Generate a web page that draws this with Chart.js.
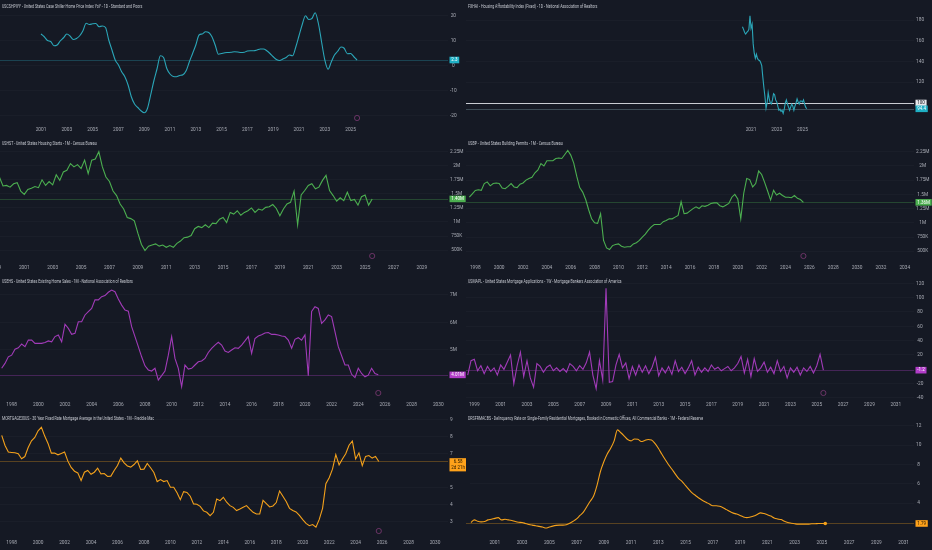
<!DOCTYPE html>
<html>
<head>
<meta charset="utf-8">
<script src="https://cdn.jsdelivr.net/npm/chart.js@4.4.1/dist/chart.umd.min.js"></script>
<style>
  body { margin: 0; background: #151924; width: 932px; height: 550px; overflow: hidden; }
  .pane { position: absolute; }
  canvas { display: block; }
</style>
</head>
<body>
<div class="pane" style="left:0;top:0"><canvas id="p1" width="466" height="137"></canvas></div>
<div class="pane" style="left:466px;top:0"><canvas id="p2" width="466" height="137"></canvas></div>
<div class="pane" style="left:0;top:137px"><canvas id="p3" width="466" height="138"></canvas></div>
<div class="pane" style="left:466px;top:137px"><canvas id="p4" width="466" height="138"></canvas></div>
<div class="pane" style="left:0;top:275px"><canvas id="p5" width="466" height="137"></canvas></div>
<div class="pane" style="left:466px;top:275px"><canvas id="p6" width="466" height="137"></canvas></div>
<div class="pane" style="left:0;top:412px"><canvas id="p7" width="466" height="138"></canvas></div>
<div class="pane" style="left:466px;top:412px"><canvas id="p8" width="466" height="138"></canvas></div>
<script>
// --- data (decimal years) ---

// Case Shiller YoY %, quarterly from 2001.0
const cshStart = 2001.0;
const cshYoY = [
  12.7, 11.6, 10.1, 9.7, 8.0, 8.3, 10.0, 11.2, 12.7, 11.9, 10.5, 10.9,
  12.0, 14.0, 17.0, 16.5, 16.8, 16.9, 15.6, 15.9, 15.3, 10.3, 6.3, 2.3,
  0.3, -2.4, -4.4, -7.7, -12.4, -15.3, -16.7, -18.0, -18.8, -17.1, -11.7, -6.0,
  -1.1, 4.0, 3.3, -1.1, -3.3, -4.3, -4.4, -3.9, -3.6, -2.0, 1.6, 4.9,
  8.3, 12.3, 12.7, 13.6, 13.3, 11.6, 8.3, 4.6, 4.9, 5.2, 5.3, 5.4,
  5.6, 5.5, 5.3, 5.4, 5.9, 6.0, 6.0, 6.3, 6.7, 6.7, 6.0, 4.9,
  3.6, 2.5, 2.1, 2.7, 3.3, 4.3, 4.0, 7.5, 12.0, 16.5, 20.0, 18.5,
  18.9, 21.2, 17.0, 9.5, 2.3, -1.4, 1.5, 4.3, 5.8, 7.5, 7.0, 4.8,
  4.9, 3.6, 2.3
];
const cshXTicks = [2001, 2003, 2005, 2007, 2009, 2011, 2013, 2015, 2017, 2019, 2021, 2023, 2025];
const cshYTicks = [-20, -10, 0, 10, 20];

// Housing affordability index, monthly from May 2020
const fhaiStart = 2020.333;
const fhai = [
  173.5, 171, 168, 166.5, 168, 169, 171, 184, 172, 176, 157, 148,
  143, 147, 143, 141.5, 141, 139, 136, 125, 115, 106, 95, 100,
  110, 104, 100, 99, 103, 109, 108, 103, 101, 97, 93, 94,
  92, 93, 90, 94, 100, 103, 99, 96, 93, 96, 99, 97,
  93, 97, 100, 104, 101, 99, 102, 102, 101, 103, 99, 96,
  94.4
];
const fhaiRef = 100;
const fhaiXTicks = [2021, 2023, 2025];
const fhaiYTicks = [120, 140, 160, 180];

// Housing starts (millions), quarterly from 1999.25
const startsStart = 1999.25;
const starts = [
  1.80, 1.64, 1.65, 1.62, 1.68, 1.70, 1.55, 1.49, 1.58, 1.60,
  1.63, 1.61, 1.75, 1.65, 1.72, 1.66, 1.84, 1.74, 1.89, 1.92,
  2.04, 1.98, 2.02, 1.95, 2.10, 1.86, 2.10, 2.12, 2.25, 1.98,
  1.80, 1.72, 1.55, 1.47, 1.32, 1.23, 1.08, 1.06, 1.02, 0.80,
  0.60, 0.49, 0.57, 0.59, 0.61, 0.57, 0.59, 0.55, 0.58, 0.55,
  0.62, 0.66, 0.72, 0.73, 0.76, 0.88, 0.92, 0.90, 0.95, 0.90,
  0.98, 0.97, 1.05, 1.08, 0.99, 1.17, 1.14, 1.20, 1.12, 1.17,
  1.20, 1.25, 1.17, 1.23, 1.21, 1.26, 1.27, 1.31, 1.24, 1.11,
  1.23, 1.32, 1.35, 1.55, 0.95, 1.48, 1.56, 1.65, 1.68, 1.59,
  1.62, 1.74, 1.83, 1.56, 1.47, 1.37, 1.43, 1.38, 1.53, 1.38,
  1.40, 1.30, 1.45, 1.48, 1.30, 1.41
];
const startsXTicks = [1999, 2001, 2003, 2005, 2007, 2009, 2011, 2013, 2015, 2017, 2019, 2021, 2023, 2025, 2027, 2029];
const unitsYTicks = [0.5, 0.75, 1, 1.25, 1.5, 1.75, 2, 2.25];

// Building permits (millions), quarterly from 1997.5
const permitsStart = 1997.5;
const permits = [
  1.45, 1.51, 1.57, 1.58, 1.57, 1.69, 1.72, 1.65, 1.69, 1.70,
  1.69, 1.61, 1.60, 1.64, 1.69, 1.63, 1.62, 1.68, 1.70, 1.75,
  1.78, 1.80, 1.88, 1.93, 2.04, 2.00, 2.09, 2.09, 2.09, 2.13,
  2.14, 2.13, 2.20, 2.27, 2.19, 2.05, 1.82, 1.62, 1.54, 1.41,
  1.23, 1.07, 1.00, 0.99, 1.16, 0.69, 0.56, 0.53, 0.60, 0.62,
  0.63, 0.59, 0.57, 0.58, 0.58, 0.63, 0.65, 0.69, 0.75, 0.80,
  0.87, 0.93, 0.97, 0.97, 0.97, 1.02, 1.04, 1.07, 1.07, 1.10,
  1.13, 1.37, 1.16, 1.17, 1.21, 1.25, 1.28, 1.25, 1.30, 1.29,
  1.31, 1.34, 1.35, 1.35, 1.30, 1.28, 1.31, 1.34, 1.45, 1.50,
  1.42, 1.07, 1.52, 1.78, 1.76, 1.63, 1.69, 1.91, 1.85, 1.71,
  1.56, 1.40, 1.57, 1.49, 1.52, 1.48, 1.45, 1.45, 1.44, 1.48,
  1.43, 1.41, 1.36
];
const permitsXTicks = [1998, 2000, 2002, 2004, 2006, 2008, 2010, 2012, 2014, 2016, 2018, 2020, 2022, 2024, 2026, 2028, 2030, 2032, 2034];

// Existing home sales (millions), quarterly from 1997.25
const salesStart = 1997.25;
const sales = [
  4.32, 4.50, 4.74, 4.80, 5.02, 5.07, 5.21, 5.11, 5.35, 5.35,
  5.23, 5.23, 5.23, 5.26, 5.32, 5.29, 5.48, 5.54, 5.29, 5.93,
  5.78, 5.56, 5.60, 6.02, 6.02, 6.27, 6.39, 6.51, 6.82, 6.82,
  6.94, 6.98, 7.10, 7.18, 7.12, 6.85, 6.63, 6.45, 6.41, 5.84,
  5.48, 5.11, 4.74, 4.41, 4.26, 4.22, 4.32, 3.89, 4.05, 4.22,
  4.80, 5.48, 4.68, 4.32, 3.65, 4.44, 4.29, 4.32, 4.44, 4.56,
  4.59, 4.68, 4.90, 5.05, 5.17, 5.27, 5.17, 4.95, 4.90, 4.99,
  5.07, 5.05, 5.17, 5.32, 5.48, 4.87, 5.41, 5.50, 5.55, 5.61,
  5.63, 5.56, 5.56, 5.54, 5.50, 5.48, 5.35, 5.05, 5.38, 5.44,
  5.35, 5.54, 4.05, 6.40, 6.57, 6.51, 5.96, 6.09, 6.27, 6.21,
  5.66, 5.11, 4.78, 4.44, 4.44, 4.10, 3.98, 4.32, 4.13, 4.01,
  4.07, 4.32, 4.13, 4.08
];
const salesXTicks = [1998, 2000, 2002, 2004, 2006, 2008, 2010, 2012, 2014, 2016, 2018, 2020, 2022, 2024, 2026, 2028, 2030];
const salesYTicks = [5, 6, 7];

// Mortgage applications % change, quarterly from 1998.5
const appsStart = 1998.5;
const apps = [
  -8, 12, 14, -2, 5, -6, 4, -3, 2, -8,
  6, 0, 10, 20, -20, 5, 24, -10, 12, -12,
  -25, 8, 4, -4, 3, 6, -2, 2, -3, 1,
  -4, 8, 4, -2, 5, 0, 9, 24, -8, -27,
  12, -15, 113, -18, -17, 6, 21, 2, 9, -13,
  4, -8, 6, -4, 5, -6, 3, 17, -9, 2,
  -5, 4, -7, 12, -3, 3, -6, 2, 12, -8,
  3, -4, 2, -3, 6, 0, 3, -2, 1, 4,
  -2, 2, 8, 18, -5, 14, -10, 15, -3, 2,
  10, -4, 3, -6, 12, -3, 4, -12, 2, -4,
  3, -8, 2, -3, 4, -5, 5, 21, -1.2
];
const appsXTicks = [1999, 2001, 2003, 2005, 2007, 2009, 2011, 2013, 2015, 2017, 2019, 2021, 2023, 2025, 2027, 2029, 2031];
const appsYTicks = [-40, -20, 20, 40, 60, 80, 100, 120];

// 30Y fixed mortgage rate %, quarterly from 1997.25
const rateStart = 1997.25;
const rate30 = [
  8.08, 7.49, 7.10, 7.08, 7.06, 7.00, 6.71, 6.84, 7.37, 7.76,
  7.96, 8.35, 8.55, 8.04, 7.61, 7.04, 7.04, 6.94, 7.02, 7.10,
  6.57, 6.20, 5.98, 5.88, 5.43, 5.92, 6.02, 5.80, 5.92, 6.16,
  5.82, 5.84, 5.67, 5.69, 6.02, 6.31, 6.75, 6.47, 6.29, 6.22,
  6.37, 6.59, 6.08, 6.10, 6.43, 6.18, 5.90, 5.37, 5.49, 5.37,
  5.43, 5.04, 5.04, 4.71, 4.31, 4.78, 4.73, 4.51, 4.06, 4.04,
  3.92, 3.65, 3.57, 3.37, 3.57, 4.35, 4.25, 4.45, 4.16, 3.96,
  3.86, 3.67, 3.76, 3.86, 3.96, 3.76, 3.57, 3.47, 3.47, 4.27,
  4.08, 3.88, 3.94, 4.14, 4.82, 4.51, 4.20, 3.80, 3.67, 3.59,
  3.39, 3.14, 2.92, 2.78, 2.85, 2.70, 3.15, 3.80, 5.25, 5.60,
  6.10, 6.95, 6.35, 6.70, 7.00, 7.50, 7.75, 6.70, 7.05, 6.30,
  6.85, 6.90, 6.75, 6.85, 6.55
];
const rateXTicks = [1998, 2000, 2002, 2004, 2006, 2008, 2010, 2012, 2014, 2016, 2018, 2020, 2022, 2024, 2026, 2028, 2030];
const rateYTicks = [3, 4, 5, 7, 8, 9];

// Delinquency rate %, quarterly from 1999.25
const delqStart = 1999.25;
const delq = [
  2.00, 2.27, 2.13, 2.07, 2.10, 2.27, 2.33, 2.43, 2.50, 2.27,
  2.33, 2.27, 2.20, 2.10, 2.03, 2.00, 1.90, 1.80, 1.73, 1.67,
  1.60, 1.53, 1.43, 1.53, 1.63, 1.70, 1.73, 1.73, 1.77, 1.93,
  2.13, 2.37, 2.73, 3.07, 3.63, 4.20, 4.73, 5.83, 7.27, 8.27,
  9.07, 9.67, 10.40, 11.57, 11.27, 10.93, 10.57, 10.43, 10.63, 10.60,
  10.37, 10.47, 10.57, 10.53, 10.17, 9.67, 9.07, 8.50, 7.97, 7.50,
  7.00, 6.53, 6.23, 5.80, 5.40, 5.03, 4.77, 4.50, 4.27, 4.10,
  3.90, 3.73, 3.73, 3.67, 3.53, 3.33, 3.13, 2.97, 2.87, 2.73,
  2.57, 2.50, 2.57, 2.67, 2.83, 3.00, 2.93, 2.80, 2.67, 2.47,
  2.37, 2.30, 2.13, 2.00, 1.93, 1.87, 1.83, 1.83, 1.83, 1.83,
  1.87, 1.87, 1.90, 1.90, 1.90
];
const delqXTicks = [2001, 2003, 2005, 2007, 2009, 2011, 2013, 2015, 2017, 2019, 2021, 2023, 2025, 2027, 2029, 2031];
const delqYTicks = [4, 6, 8, 10, 12];

// --- drawing ---
const FONT = 'Roboto, "Noto Sans", sans-serif';
const TICK_COLOR = '#a7aab3';
const TICK_SIZE = 4.8;
const fmtUnits = v => v >= 1 ? (+v.toFixed(2)) + 'M' : Math.round(v * 1000) + 'K';
const fmtPlain = v => String(v);

function series(start, step, values) {
  return values.map((v, i) => ({ x: start + i * step, y: v }));
}

function badge(ctx, x, y, lines, bg, fg) {
  ctx.font = '4.5px ' + FONT;
  const w = Math.max(...lines.map(t => ctx.measureText(t).width)) + 3.5;
  const h = 6.6 * lines.length;
  const top = y - 3.3;
  ctx.fillStyle = bg;
  ctx.fillRect(x, top, w, h);
  ctx.fillStyle = fg;
  ctx.textAlign = 'center';
  ctx.textBaseline = 'middle';
  lines.forEach((t, i) => ctx.fillText(t, x + w / 2, top + 3.4 + i * 6.4));
}

const decor = {
  id: 'decor',
  beforeDatasetsDraw(chart, args, o) {
    const { ctx, chartArea: a, scales: { y } } = chart;
    const pts = chart.data.datasets[0].data;
    ctx.save();
    ctx.lineWidth = 1;
    if (o.refLine != null) {
      const ry = Math.round(y.getPixelForValue(o.refLine)) + 0.5;
      ctx.strokeStyle = '#c9ccd3';
      ctx.beginPath(); ctx.moveTo(0, ry); ctx.lineTo(a.right, ry); ctx.stroke();
    }
    const py = Math.round(y.getPixelForValue(pts[pts.length - 1].y)) + 0.5;
    ctx.strokeStyle = o.priceLine;
    ctx.beginPath(); ctx.moveTo(0, py); ctx.lineTo(a.right, py); ctx.stroke();
    ctx.restore();
  },
  afterDraw(chart, args, o) {
    const { ctx, chartArea: a, scales: { x, y } } = chart;
    const pts = chart.data.datasets[0].data;
    const last = pts[pts.length - 1];
    ctx.save();
    // pane title
    ctx.font = '4.6px ' + FONT;
    ctx.fillStyle = '#c4c7cf';
    ctx.textAlign = 'left';
    ctx.textBaseline = 'middle';
    ctx.save();
    ctx.scale(0.78, 1);
    ctx.fillText(o.title, 2 / 0.78, 7);
    ctx.restore();
    // event marker under the last bar
    if (o.marker) {
      const mx = x.getPixelForValue(last.x);
      ctx.strokeStyle = '#8c3f7f';
      ctx.lineWidth = 0.7;
      ctx.beginPath(); ctx.arc(mx, a.bottom - 7, 2.6, 0, Math.PI * 2); ctx.stroke();
    }
    // last value badges
    if (o.refLine != null) {
      badge(ctx, a.right + 1.5, y.getPixelForValue(o.refLine), [String(o.refLine)], '#e6e7ea', '#131722');
    }
    badge(ctx, a.right + 1.5, y.getPixelForValue(last.y), o.badge, o.badgeBg, o.badgeFg);
    ctx.restore();
  }
};

function pane(id, p) {
  const canvas = document.getElementById(id);
  const H = canvas.height;
  const B = H - 12;
  const pts = series(p.start, p.step, p.values);
  new Chart(canvas, {
    type: 'line',
    data: {
      datasets: [{
        data: pts,
        borderColor: p.color,
        borderWidth: 1.1,
        tension: p.smooth ? 0.4 : 0,
        cubicInterpolationMode: p.smooth ? 'monotone' : 'default',
        pointRadius: ctx => (p.endDot && ctx.dataIndex === pts.length - 1) ? 1.8 : 0,
        pointBackgroundColor: p.color,
        pointBorderWidth: 0,
        fill: false
      }]
    },
    options: {
      responsive: false,
      animation: false,
      events: [],
      layout: { padding: 0 },
      plugins: {
        legend: { display: false },
        tooltip: { enabled: false },
        decor: {
          title: p.title, badge: p.badge, badgeBg: p.badgeBg, badgeFg: p.badgeFg,
          priceLine: p.priceLine, marker: p.marker, refLine: p.refLine
        }
      },
      scales: {
        x: {
          type: 'linear', min: p.x[0], max: p.x[1],
          grid: { display: false, drawTicks: false }, border: { display: false },
          afterBuildTicks: s => { s.ticks = p.xTicks.map(v => ({ value: v })); },
          afterFit: s => { s.height = H - B; s.paddingLeft = 0; s.paddingRight = 0; },
          ticks: {
            color: TICK_COLOR, font: { family: FONT, size: TICK_SIZE }, padding: 2,
            maxRotation: 0, autoSkip: false, callback: v => String(v)
          }
        },
        y: {
          position: 'right', min: p.y[0], max: p.y[1],
          grid: { color: 'rgba(255,255,255,0.025)', drawTicks: false }, border: { display: false },
          afterBuildTicks: s => { s.ticks = p.yTicks.map(v => ({ value: v })); },
          afterFit: s => { s.width = 18; s.paddingTop = 0; s.paddingBottom = 0; },
          ticks: {
            color: TICK_COLOR, font: { family: FONT, size: TICK_SIZE }, padding: 2,
            crossAlign: 'center', callback: p.fmt
          }
        }
      }
    },
    plugins: [decor]
  });
}

const CYAN = '#2ba6b8', GREEN = '#4caf50', PURPLE = '#a13bb8', ORANGE = '#f4a11b';

pane('p1', {
  title: 'USCSHPIYY - United States Case Shiller Home Price Index YoY - 1D - Standard and Poors',
  start: cshStart, step: 0.25, values: cshYoY, color: CYAN, smooth: true,
  x: [1997.82, 2032.55], y: [-23.7, 26.3], xTicks: cshXTicks, yTicks: cshYTicks, fmt: fmtPlain,
  badge: ['2.3'], badgeBg: '#1fb0c5', badgeFg: '#ffffff', priceLine: 'rgba(43,166,184,0.3)', marker: true
});
pane('p2', {
  title: 'FXHAI - Housing Affordability Index (Fixed) - 1D - National Association of Realtors',
  start: fhaiStart, step: 1 / 12, values: fhai, color: CYAN,
  x: [1998.82, 2033.68], y: [78.8, 199.3], xTicks: fhaiXTicks, yTicks: fhaiYTicks, fmt: fmtPlain,
  badge: ['94.4'], badgeBg: '#1fb0c5', badgeFg: '#ffffff', priceLine: 'rgba(120,150,160,0.4)', refLine: fhaiRef
});
pane('p3', {
  title: 'USHST - United States Housing Starts - 1M - Census Bureau',
  start: startsStart, step: 0.25, values: starts, color: GREEN,
  x: [1999.29, 2030.84], y: [0.27, 2.512], xTicks: startsXTicks, yTicks: unitsYTicks, fmt: fmtUnits,
  badge: ['1.40M'], badgeBg: '#4caf50', badgeFg: '#ffffff', priceLine: 'rgba(76,175,80,0.3)', marker: true
});
pane('p4', {
  title: 'USBP - United States Building Permits - 1M - Census Bureau',
  start: permitsStart, step: 0.25, values: permits, color: GREEN,
  x: [1997.22, 2034.77], y: [0.294, 2.508], xTicks: permitsXTicks, yTicks: unitsYTicks, fmt: fmtUnits,
  badge: ['1.36M'], badgeBg: '#4caf50', badgeFg: '#ffffff', priceLine: 'rgba(76,175,80,0.3)', marker: true
});
pane('p5', {
  title: 'USEHS - United States Existing Home Sales - 1M - National Association of Realtors',
  start: salesStart, step: 0.25, values: sales, color: PURPLE,
  x: [1997.125, 2030.73], y: [3.161, 7.731], xTicks: salesXTicks, yTicks: salesYTicks, fmt: v => v + 'M',
  badge: ['4.01M'], badgeBg: '#b13cc8', badgeFg: '#ffffff', priceLine: 'rgba(161,59,184,0.35)', marker: true
});
pane('p6', {
  title: 'USMAPL - United States Mortgage Applications - 1W - Mortgage Bankers Association of America',
  start: appsStart, step: 0.25, values: apps, color: PURPLE,
  x: [1998.37, 2032.38], y: [-42.8, 131.6], xTicks: appsXTicks, yTicks: appsYTicks, fmt: fmtPlain,
  badge: ['-1.2'], badgeBg: '#b13cc8', badgeFg: '#ffffff', priceLine: 'rgba(161,59,184,0.35)', marker: true
});
pane('p7', {
  title: 'MORTGAGE30US - 30 Year Fixed Rate Mortgage Average in the United States - 1M - Freddie Mac',
  start: rateStart, step: 0.25, values: rate30, color: ORANGE,
  x: [1997.12, 2030.98], y: [2.061, 9.452], xTicks: rateXTicks, yTicks: rateYTicks, fmt: fmtPlain,
  badge: ['6.58', '2d 21h'], badgeBg: '#ffa21a', badgeFg: '#2a1a00', priceLine: 'rgba(244,161,27,0.3)', marker: true
});
pane('p8', {
  title: 'DRSFRMACBS - Delinquency Rate on Single-Family Residential Mortgages, Booked in Domestic Offices, All Commercial Banks - 1M - Federal Reserve',
  start: delqStart, step: 0.25, values: delq, color: ORANGE, smooth: true, endDot: true,
  x: [1999.18, 2031.76], y: [0.4, 13], xTicks: delqXTicks, yTicks: delqYTicks, fmt: fmtPlain,
  badge: ['1.79'], badgeBg: '#ffa21a', badgeFg: '#2a1a00', priceLine: 'rgba(244,161,27,0.3)'
});
</script>
</body>
</html>
